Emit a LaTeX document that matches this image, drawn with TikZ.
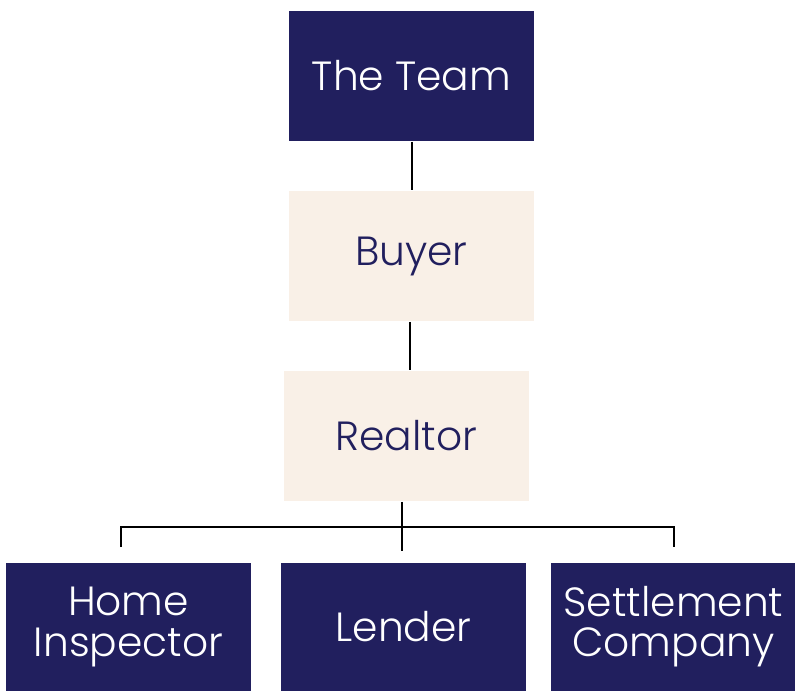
\documentclass[tikz,border=0pt]{standalone}
\usepackage{fontspec}
\setmainfont{Poppins}[UprightFont=* Light]
\usepackage{tikz}

\definecolor{navy}{RGB}{33,31,94}
\definecolor{cream}{RGB}{249,240,231}

\begin{document}
\begin{tikzpicture}[x=0.025cm,y=-0.025cm,line width=1.2pt,draw=black]
	\tikzstyle{box}=[rectangle,draw=none,
	minimum width=6.125cm,minimum height=3.25cm,
	inner sep=0pt,align=center,
	font=\fontsize{29}{28.5}\selectfont
	]
	\tikzstyle{dark}=[box, fill=navy, text=white];
	\tikzstyle{light}=[box, fill=cream, text=navy];

\useasboundingbox (0,0) rectangle (795,690);

\node[dark](team) at (411.5,76){The Team};
\node[light](buyer) at (411.5,256){Buyer};
\node[light](realtor) at (406.5,436){Realtor};
\node[dark,minimum height=3.2cm](home) at (128.5,627){Home\\Inspector};
\node[dark,minimum height=3.2cm](lender) at (403.5,627){Lender};
\node[dark,minimum height=3.2cm](settle) at (673.5,627){Settlement\\Company};

\coordinate (bus) at (402,527);
\coordinate (tl) at (121,547);
\coordinate (tm) at (402,551);
\coordinate (tr) at (674,547);

\draw (team.south -| 412,0) -- (buyer.north -| 412,0);
\draw (buyer.south -| 410,0) -- (realtor.north -| 410,0);
\draw (realtor.south -| tm) -- (tm);
\draw (tl) |- (bus) -| (tr);

\end{tikzpicture}
\end{document}
